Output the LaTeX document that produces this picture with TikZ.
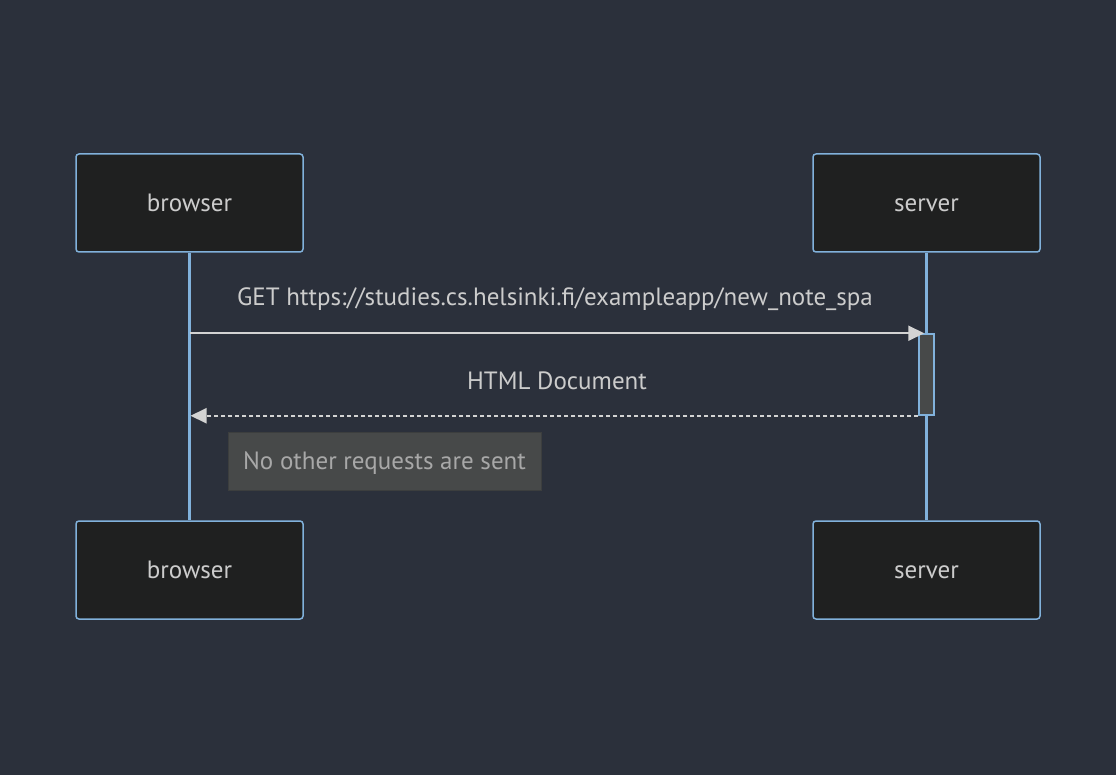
\documentclass[tikz,border=0pt]{standalone}
\usepackage{fontspec}
\setmainfont{PT Sans}
\usetikzlibrary{arrows.meta}

\definecolor{bgcol}{HTML}{2B303B}
\definecolor{actorfill}{HTML}{1F2020}
\definecolor{actorline}{HTML}{81B1DB}
\definecolor{msgline}{HTML}{D3D3D3}
\definecolor{labeltext}{HTML}{CCCCCC}
\definecolor{notefill}{HTML}{474949}
\definecolor{notetext}{HTML}{A8A8A8}

\begin{document}
\begin{tikzpicture}
	[%
	x=1pt, y=-1pt,%
	actor/.style   ={rectangle,	rounded corners=3pt,	draw=actorline,	fill=actorfill,	line width=1.5pt,	minimum width=227pt,	minimum height=98pt,	text=labeltext,	font=\fontsize{25}{30}\selectfont,	text height=21pt,	text depth=4pt},%
	lifeline/.style={draw=actorline,	line width=3pt},%
	activation/.style={rectangle,	draw=actorline,	fill=notefill,	line width=1.5pt,	inner sep=0pt,	minimum width=15pt,	minimum height=81pt},%
	message/.style ={draw=msgline,	line width=2pt,	-{Triangle[length=16pt,width=15pt]}},%
	reply/.style   ={message,	dash pattern=on 4pt off 3pt},%
	msglabel/.style={text=labeltext,	font=\fontsize{25}{30}\selectfont,	inner sep=0pt},%
	note/.style    ={rectangle,	draw=notefill!85!black,	fill=notefill,	text=notetext,	font=\fontsize{25}{30}\selectfont,	text height=21pt,	text depth=4pt,	minimum width=313pt,	minimum height=58pt},%
	]

	\fill [bgcol] (0,0) rectangle (1116,775);

	% nodes
	\node (browserTop)    at (189.5,203) [actor] {browser};
	\node (serverTop)     at (926.5,203) [actor] {server};
	\node (browserBottom) at (189.5,570) [actor] {browser};
	\node (serverBottom)  at (926.5,570) [actor] {server};

	% lifelines
	\draw [lifeline] (browserTop) to (browserBottom);
	\draw [lifeline] (serverTop) to (serverBottom);

	\node (act) at (926.5,374.5) [activation] {};

	% messages
	\draw [message] (browserTop.south |- act.north) to ([xshift=6pt]act.north west);
	\draw [reply] (act.south west) to ([xshift=1pt]browserTop.south |- act.south);

	\node (getLabel)  at (555,299) [msglabel] {GET https://studies.cs.helsinki.fi/exampleapp/new\_note\_spa};
	\node (htmlLabel) at (557,381) [msglabel] {HTML Document};

	\node (noteSent) at (384.5,461) [note] {No other requests are sent};

\end{tikzpicture}
\end{document}
